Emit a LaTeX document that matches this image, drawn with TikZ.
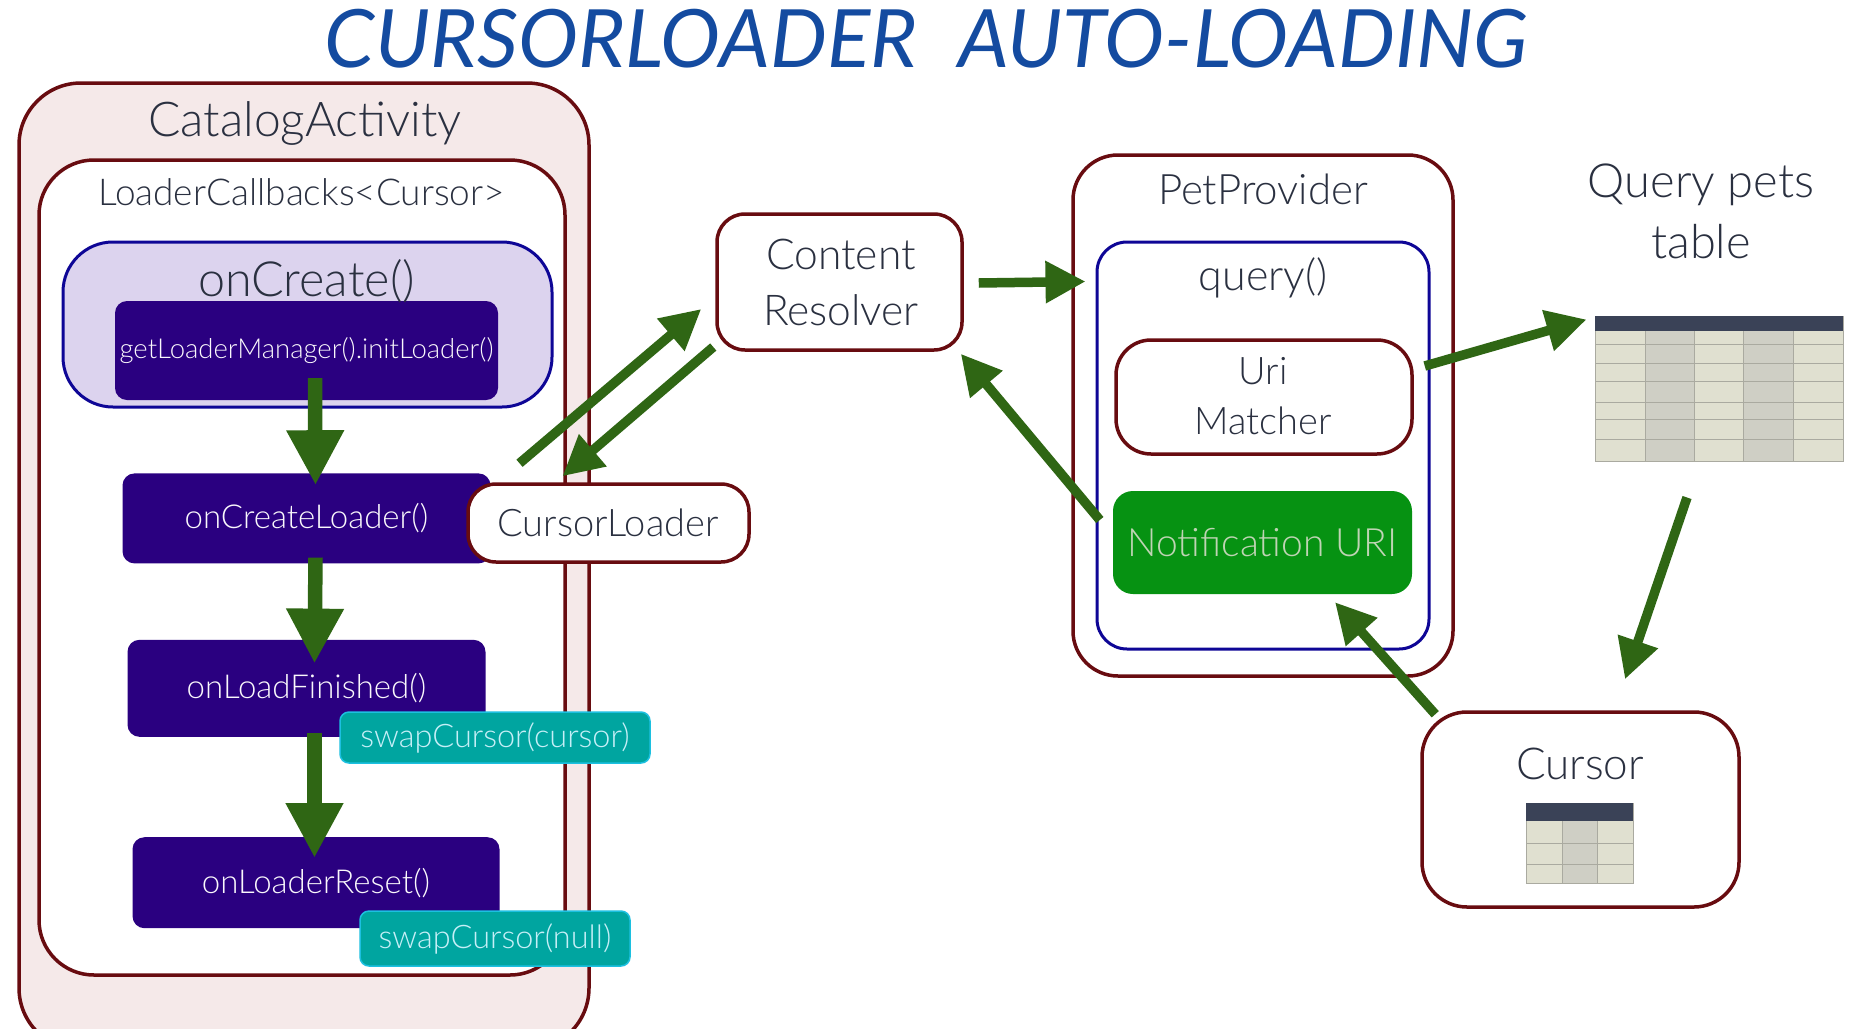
\documentclass[tikz,border=0pt]{standalone}
\usepackage{fontspec}
\usepackage{xcolor}
\usepackage{tikz}
\usetikzlibrary{arrows.meta, positioning, calc}
\setmainfont{Lato Light}
\newfontfamily\titlefont{Lato}
\definecolor{cMaroon}{RGB}{104,12,16}
\definecolor{cBlush}{RGB}{245,233,233}
\definecolor{cNavy}{RGB}{14,6,150}
\definecolor{cLilac}{RGB}{220,211,238}
\definecolor{cIndigo}{RGB}{42,0,128}
\definecolor{cTeal}{RGB}{0,165,160}
\definecolor{cSky}{RGB}{28,192,224}
\definecolor{cLeaf}{RGB}{6,146,18}
\definecolor{cArrow}{RGB}{47,102,20}
\definecolor{cInk}{RGB}{42,48,64}
\definecolor{cTitle}{RGB}{20,75,160}
\definecolor{cCell}{RGB}{224,224,208}
\definecolor{cCellDark}{RGB}{207,207,197}
\definecolor{cGrid}{RGB}{170,170,160}
\definecolor{cHead}{RGB}{58,66,87}
\tikzset{
	sized/.style    ={font=\fontsize{#1}{#1}\selectfont},
	txt/.style      ={inner sep=0pt, text=cInk, align=center},
	shell/.style    ={rectangle, draw=cMaroon, line width=3.5pt, fill=white, inner sep=0pt},
	method/.style   ={rectangle, rounded corners=12pt, fill=cIndigo, text=white!85!cLilac, inner sep=0pt},
	swapbox/.style  ={rectangle, rounded corners=9pt, draw=cSky, line width=1.5pt, fill=cTeal, text=white!75!cSky, inner sep=0pt},
	bigflow/.style  ={-{Triangle[length=55pt,width=54pt]}, line width=14.5pt, draw=cArrow},
	flow/.style     ={-{Triangle[length=40pt,width=40pt]}, line width=9.5pt, draw=cArrow},
}
\begin{document}
\begin{tikzpicture}[x=1pt,y=-1pt]
	\useasboundingbox (0,0) rectangle (1865,1028);
	\fill[white] (0,0) rectangle (1865,1028);
	\node[txt, text=cTitle, font=\titlefont\itshape\fontsize{80.5}{80.5}\selectfont] (title) at (926.5,39) {CURSORLOADER\hspace{22pt} AUTO-LOADING};
	\node[shell, rounded corners=62pt, fill=cBlush, minimum width=570pt, minimum height=967pt] (catalog) at (304,566.5) {};
	\node[shell, rounded corners=55pt, minimum width=526pt, minimum height=815pt] (callbacks) at (302,567.5) {};
	\node[txt, sized=48] (catalogtxt) at (305,123) {CatalogActivity};
	\node[txt, sized=37] (callbackstxt) at (301.5,192) {LoaderCallbacks<Cursor>};
	\node[rectangle, rounded corners=50pt, draw=cNavy, line width=3pt, fill=cLilac, minimum width=489pt, minimum height=165pt] (oncreate) at (307.5,324.5) {};
	\node[method, sized=27.5, minimum width=383pt, minimum height=99pt] (initloader) at (306.5,350.5) {getLoaderManager().initLoader()};
	\node[txt, sized=48.5, above=-2pt of initloader] (oncreatetxt) {onCreate()};
	\node[method, sized=33, minimum width=368pt, minimum height=90pt, below=73pt of initloader] (createloader) {onCreateLoader()};
	\node[method, sized=33, minimum width=358pt, minimum height=97pt, below=76pt of createloader] (loadfinished) {onLoadFinished()};
	\node[method, sized=33, minimum width=367pt, minimum height=91pt, below=100pt of loadfinished, xshift=9.5pt] (loaderreset) {onLoaderReset()};
	\node[swapbox, sized=32.5, minimum width=310pt, minimum height=51pt] (swapcursor) at (495,737.5) {swapCursor(cursor)};
	\node[swapbox, sized=32.5, minimum width=270pt, minimum height=55pt] (swapnull) at (495,938.5) {swapCursor(null)};
	\node[shell, rounded corners=28pt, minimum width=281pt, minimum height=78pt] (cursorloader) at (608.5,523) {};
	\node[txt, sized=38] (cursorloadertxt) at (608,523) {CursorLoader};
	\node[shell, rounded corners=28pt, minimum width=245pt, minimum height=136pt] (resolver) at (839.5,282) {};
	\node[txt, font=\fontsize{42.5}{56}\selectfont] (resolvertxt) at (841,282) {Content\\Resolver};
	\node[shell, rounded corners=45pt, minimum width=380pt, minimum height=521pt] (provider) at (1263,415.5) {};
	\node[txt, sized=42] (providertxt) at (1263,189) {PetProvider};
	\node[rectangle, rounded corners=30pt, draw=cNavy, line width=3pt, fill=white, minimum width=332pt, minimum height=407pt] (query) at (1263,445.5) {};
	\node[txt, sized=43] (querytxt) at (1263,278) {query()};
	\node[shell, rounded corners=35pt, minimum width=296pt, minimum height=114pt] (matcher) at (1264,397) {};
	\node[txt, font=\fontsize{38}{50}\selectfont] (matchertxt) at (1263,396) {Uri\\Matcher};
	\node[rectangle, rounded corners=20pt, fill=cLeaf, text=cCell!85!cLeaf, sized=39, minimum width=299pt, minimum height=103pt, inner sep=0pt] (notify) at (1262.5,542.5) {Notification URI};
	\node[txt, font=\fontsize{47}{61}\selectfont] (querypets) at (1701,211) {Query pets\\table};
	% pets table
	\node[rectangle, fill=cCell, draw=cGrid, line width=1pt, minimum width=248pt, minimum height=145pt, inner sep=0pt] (petstable) at (1719,388.5) {};
	\fill[cCellDark] (1645,331) rectangle (1694,461); \fill[cCellDark] (1743,331) rectangle (1793,461);
	\foreach \xcol in {1645,1694,1743,1793} \draw[cGrid, line width=1pt] (\xcol,331) -- (\xcol,461);
	\foreach \yrow in {344.5,363,381,402,419,439} \draw[cGrid, line width=1pt] (1595,\yrow) -- (1843,\yrow);
	\fill[cHead] (1595,316) rectangle (1843,331);
	\node[shell, rounded corners=45pt, minimum width=317pt, minimum height=195pt] (cursor) at (1580.5,809.5) {};
	\node[txt, sized=44] (cursortxt) at (1580,764) {Cursor};
	% cursor table
	\node[rectangle, fill=cCell, draw=cGrid, line width=1pt, minimum width=107pt, minimum height=80pt, inner sep=0pt] (minitable) at (1579.5,843) {};
	\fill[cCellDark] (1562,821) rectangle (1597,883);
	\foreach \xcol in {1562,1597} \draw[cGrid, line width=1pt] (\xcol,821) -- (\xcol,883);
	\foreach \yrow in {843,864} \draw[cGrid, line width=1pt] (1526,\yrow) -- (1633,\yrow);
	\fill[cHead] (1526,803) rectangle (1633,821);
	% arrows
	\draw[bigflow] ($(initloader.south)+(8.5,-22)$) -- ($(createloader.north)+(9,12)$);
	\draw[bigflow] ($(createloader.south)+(9,-6)$) -- ($(loadfinished.north)+(8,24)$);
	\draw[bigflow] ($(loadfinished.south)+(8,-4)$) -- ($(loaderreset.north)+(-1.5,21)$);
	\draw[flow] ($(cursorloader.north)+(-89,-19)$) -- ($(resolver.west)+(-14,27)$);
	\draw[flow] ($(resolver.west)+(-2,65)$) -- ($(cursorloader.north)+(-46,-6)$);
	\draw[flow] ($(resolver.east)+(15,1)$) -- ($(query.north west)+(-10,41)$);
	\draw[flow] ($(notify.west)+(-13,-22.5)$) -- ($(resolver.south east)+(-3,2)$);
	\draw[flow] ($(cursor.north west)+(15,4)$) -- ($(notify.south)+(72.5,8)$);
	\draw[flow] ($(matcher.east)+(11,-31)$) -- ($(petstable.north west)+(-8,4)$);
	\draw[flow] ($(petstable.south)+(-32,36)$) -- ($(cursor.north)+(44.5,-31)$);
\end{tikzpicture}
\end{document}
